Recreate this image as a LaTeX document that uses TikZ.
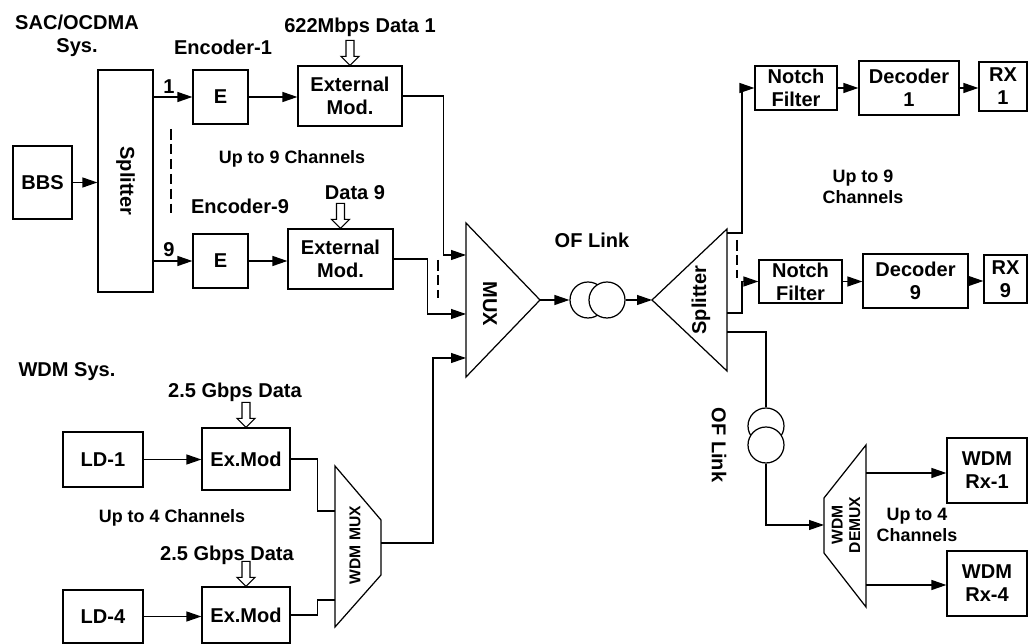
\documentclass[tikz,border=0pt]{standalone}
\usepackage{fontspec}
\setmainfont{Liberation Sans}
\usetikzlibrary{arrows.meta,positioning,calc}

\begin{document}
\begin{tikzpicture}[
        x=0.02cm, y=-0.02cm,
        >={Triangle[length=3mm,width=2mm]},
        line width=0.7pt,
        font=\bfseries\fontsize{11.4}{13.1}\selectfont,
        box/.style={draw, rectangle, inner sep=0pt, align=center},
        txt/.style={inner sep=0pt, align=center},
        small/.style={font=\bfseries\fontsize{10.2}{12}\selectfont},
        tiny/.style={font=\bfseries\fontsize{8.9}{10}\selectfont},
        fib/.style={draw, circle, minimum size=0.72cm, inner sep=0pt},
        dashln/.style={dash pattern=on 6pt off 2.5pt},
        datain/.pic={
            \draw[line width=0.6pt, fill=white] (0,0) -- (-9,-9) -- (-4,-9) -- (-4,-25)
                -- (4,-25) -- (4,-9) -- (9,-9) -- cycle;
        }
    ]
    \useasboundingbox (0,0) rectangle (1029,644);

    % SAC/OCDMA part
    \node[txt] (sac) at (77,36) {SAC/OCDMA\\Sys.};
    \node[box, minimum width=1.18cm, minimum height=1.46cm] (bbs) at (42.5,182.5) {BBS};
    \node[box, minimum width=1.10cm, minimum height=4.44cm,
          label={[rotate=-90]center:Splitter}] (spl) at (125.5,181) {};
    \node[box, minimum width=1.10cm, minimum height=1.08cm] (e1) at (220.5,97) {E};
    \node[box, minimum width=1.10cm, minimum height=1.08cm] (e9) at (220.5,261) {E};
    \node[box, minimum width=2.08cm, minimum height=1.20cm] (xm1) at (350,96) {External\\Mod.};
    \node[box, minimum width=2.10cm, minimum height=1.20cm] (xm9) at (340.5,259) {External\\Mod.};
    \node[txt] (enc1) at (223,47) {Encoder-1};
    \node[txt] (enc9) at (240,206) {Encoder-9};
    \node[txt] (dat1) at (360,27) {622Mbps Data 1};
    \node[txt] (dat9) at (355,193) {Data 9};
    \node[txt] (ch1) at (169,87) {1};
    \node[txt] (ch9) at (169,250) {9};
    \node[txt, small] (up9) at (292,159) {Up to 9 Channels};
    \pic at (xm1.north) {datain};
    \pic at (xm9.north) {datain};
    \coordinate (dl1) at (171,129);
    \coordinate (dl2) at (171,213);
    \draw[dashln] (dl1) -- (dl2);

    \draw[->] (bbs.east) -- (bbs.east -| spl.west);
    \draw[->] (spl.east |- e1.west) -- (e1.west);
    \draw[->] (spl.east |- e9.west) -- (e9.west);
    \draw[->] (e1.east) -- (e1.east -| xm1.west);
    \draw[->] (e9.east) -- (e9.east -| xm9.west);

    % MUX and link
    \draw (466,223) coordinate (mux-t) -- (540,300) coordinate (mux-o)
        -- (466,377) coordinate (mux-b) -- cycle;
    \node[txt, rotate=-90] (mux) at (490,304) {MUX};
    \coordinate (mux-i1) at (466,255);
    \coordinate (mux-i2) at (466,314);
    \coordinate (mux-i3) at (466,358);
    \draw[->] (xm1.east) -- ++(41,0) |- (mux-i1);
    \draw[->] (xm9.east) -- ++(34,0) |- (mux-i2);
    \coordinate (dm1) at (438,260);
    \coordinate (dm2) at (438,298);
    \draw[dashln] (dm1) -- (dm2);

    \node[txt] (of1) at (592,240) {OF Link};
    \node[fib] (c1) at (588,300) {};
    \node[fib, fill=white] (c2) at (607,300) {};
    \draw[->] (mux-o) -- (c1.west);

    \draw (652,300) coordinate (sp2-i) -- (727,229) coordinate (sp2-t)
        -- (727,371) coordinate (sp2-b) -- cycle;
    \node[txt, rotate=90] (sp2) at (701,300) {Splitter};
    \draw[->] (c2.east) -- (sp2-i);
    \coordinate (sp2-o1) at (727,233);
    \coordinate (sp2-o2) at (727,313);
    \coordinate (sp2-o3) at (727,332);

    % SAC/OCDMA receivers
    \node[box, minimum width=1.64cm, minimum height=0.88cm] (n1) at (796,88) {Notch\\Filter};
    \node[box, minimum width=2.00cm, minimum height=1.08cm] (d1) at (909,88) {Decoder\\1};
    \node[box, minimum width=0.96cm, minimum height=0.98cm] (r1) at (1003,86.5) {RX\\1};
    \node[box, minimum width=1.66cm, minimum height=0.86cm] (n9) at (800.5,281.5) {Notch\\Filter};
    \node[box, minimum width=2.10cm, minimum height=1.08cm] (d9) at (915.5,281) {Decoder\\9};
    \node[box, minimum width=0.86cm, minimum height=0.96cm] (r9) at (1005.5,279) {RX\\9};
    \node[txt, small] (up9r) at (863,187) {Up to 9\\Channels};
    \draw[->] (sp2-o1) -- (742,233) |- (n1.west);
    \draw[->] (sp2-o2) -- (742,313) |- (n9.west);
    \coordinate (dr1) at (737,240);
    \coordinate (dr2) at (737,278);
    \draw[dashln] (dr1) -- (dr2);
    \draw[->] (n1.east) -- (n1.east -| d1.west);
    \draw[->] (d1.east) -- (d1.east -| r1.west);
    \draw[->] (n9.east) -- (n9.east -| d9.west);
    \draw[->] (d9.east) -- (d9.east -| r9.west);

    % WDM receivers
    \node[fib] (v1) at (766,426) {};
    \node[fib, fill=white] (v2) at (766,445) {};
    \node[txt, rotate=-90] (of2) at (719,445) {OF Link};
    \draw (sp2-o3) -| (v1.north);
    \draw (824,498) coordinate (dmx-t) -- (866,445) -- (866,607) -- (824,553) -- cycle;
    \node[txt, tiny, rotate=90] (dmx) at (846,525) {WDM\\DEMUX};
    \coordinate (dmx-i) at (824,525);
    \coordinate (dmx-o1) at (866,473);
    \coordinate (dmx-o4) at (866,585);
    \draw[->] (v2.south) |- (dmx-i);
    \node[box, minimum width=1.60cm, minimum height=1.30cm] (wr1) at (987,470.5) {WDM\\Rx-1};
    \node[box, minimum width=1.60cm, minimum height=1.30cm] (wr4) at (987,583.5) {WDM\\Rx-4};
    \draw[->] (dmx-o1) -- (dmx-o1 -| wr1.west);
    \draw[->] (dmx-o4) -- (dmx-o4 -| wr4.west);
    \node[txt, small] (up4r) at (917,525) {Up to 4\\Channels};

    % WDM part
    \node[txt] (wdm) at (67,372) {WDM Sys.};
    \node[box, minimum width=1.60cm, minimum height=1.10cm] (ld1) at (103,459.5) {LD-1};
    \node[box, minimum width=1.76cm, minimum height=1.24cm] (em1) at (246,459) {Ex.Mod};
    \node[txt] (gb1) at (235,392) {2.5 Gbps Data};
    \pic at (em1.north) {datain};
    \node[txt, small] (up4) at (172,518) {Up to 4 Channels};
    \node[txt] (gb4) at (227,555) {2.5 Gbps Data};
    \node[box, minimum width=1.60cm, minimum height=1.06cm] (ld4) at (103,616.5) {LD-4};
    \node[box, minimum width=1.76cm, minimum height=1.12cm] (em4) at (246,615) {Ex.Mod};
    \pic at (em4.north) {datain};
    \draw[->] (ld1.east) -- (ld1.east -| em1.west);
    \draw[->] (ld4.east) -- (ld4.east -| em4.west);

    \draw (335,466) coordinate (wm-t) -- (381,520) -- (381,575) -- (335,627) -- cycle;
    \node[txt, tiny, rotate=90] (wmx) at (355,545) {WDM MUX};
    \coordinate (wm-i1) at (335,511);
    \coordinate (wm-i4) at (335,600);
    \coordinate (wm-o) at (381,543);
    \draw (em1.east) -- ++(27,0) |- (wm-i1);
    \draw (em4.east) -- ++(27,0) |- (wm-i4);
    \draw[->] (wm-o) -- (433,543) |- (mux-i3);
\end{tikzpicture}
\end{document}
